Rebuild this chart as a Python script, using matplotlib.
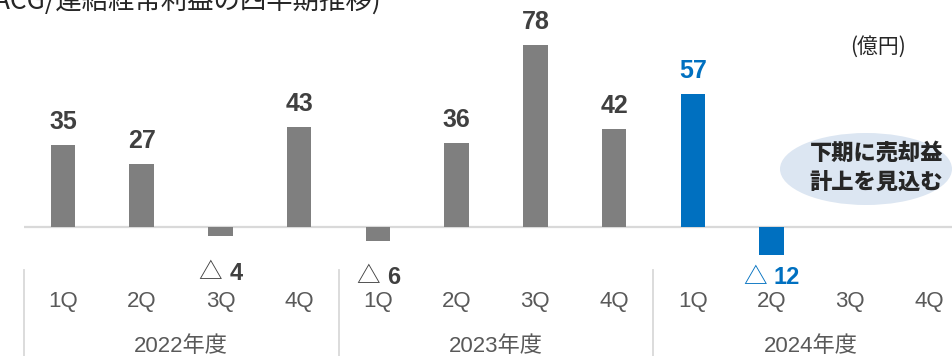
import matplotlib
matplotlib.use("Agg")
import matplotlib.pyplot as plt
from matplotlib.patches import Ellipse

plt.rcParams['font.family'] = ['Liberation Sans', 'Noto Sans CJK JP', 'DejaVu Sans']

# Quarterly consolidated ordinary profit (100 million yen)
years = ["2022年度", "2023年度", "2024年度"]
quarters = ["1Q", "2Q", "3Q", "4Q"]
values = [35, 27, -4, 43, -6, 36, 78, 42, 57, -12]
n_slots = len(years) * len(quarters)
bar_colors = ["#7F7F7F"] * 8 + ["#0070C0"] * 2
label_colors = ["#404040"] * 8 + ["#0070C0"] * 2

W, H, DPI = 953, 356, 100
fig = plt.figure(figsize=(W / DPI, H / DPI), dpi=DPI)
ax = fig.add_axes([0, 0, 1, 1])

# pixel geometry of the plotting area
x0_px, step_px = 63.0, 78.72
base_px, unit_px = 227.0, 2.33
ax.set_xlim(-x0_px / step_px, (W - x0_px) / step_px)
ax.set_ylim(-(H - base_px) / unit_px, base_px / unit_px)
ax.axis("off")

def y_of(px_from_top):
    return (base_px - px_from_top) / unit_px

xs = list(range(len(values)))
ax.bar(xs, values, width=24.5 / step_px, color=bar_colors, zorder=3)

# baseline
ax.plot([-0.5, n_slots], [0, 0], color="#D9D9D9", lw=1.6, zorder=2,
        solid_capstyle="butt")

# group separators
for b in [-0.5, 3.5, 7.5]:
    ax.plot([b, b], [y_of(270), y_of(H + 2)], color="#D9D9D9", lw=1.3,
            clip_on=False)

# positive value labels
for x, v, c in zip(xs, values, label_colors):
    if v > 0:
        ax.annotate(f"{v}", (x, v), xytext=(0, 11.5), textcoords="offset points",
                    ha="center", va="baseline", fontsize=18, fontweight="bold",
                    color=c)

# negative value labels (△ + number), centred under the bar
neg_y = {2: 273, 4: 277, 9: 278}
fig.canvas.draw()
renderer = fig.canvas.get_renderer()
for x, v, c in zip(xs, values, label_colors):
    if v < 0:
        yv = y_of(neg_y[x])
        tri = ax.text(0, yv, "△", ha="left", va="center", fontsize=17,
                      color=c, family=["Noto Sans CJK JP"])
        num = ax.text(0, yv, f"{-v}", ha="left", va="center", fontsize=17,
                      fontweight="bold", color=c)
        wt = tri.get_window_extent(renderer).width
        wn = num.get_window_extent(renderer).width
        gap = 7.0
        total = wt + gap + wn
        cx = x0_px + x * step_px
        left = cx - total / 2
        tri.set_x(left / step_px - x0_px / step_px)
        num.set_x((left + wt + gap) / step_px - x0_px / step_px)

# quarter labels
for i in range(n_slots):
    ax.text(i, y_of(301), quarters[i % 4], ha="center", va="center",
            fontsize=16, color="#595959")

# fiscal year labels
for g, yr in enumerate(years):
    ax.text(g * 4 + 1.5, y_of(346), yr, ha="center", va="center",
            fontsize=16, color="#595959")

# unit label
fig.text(878 / W, 1 - 47 / H, "(億円)", ha="center", va="center",
         fontsize=15, color="#262626", family=["Noto Sans CJK JP"])

# title, running off the top-left edge
fig.text(-14 / W, 1 - 1 / H, "(ACG/連結経常利益の四半期推移)", ha="left",
         va="center", fontsize=19, color="#262626", family=["Noto Sans CJK JP"])

# callout
ell = Ellipse((866, H - 169), 172, 72, transform=None, facecolor="#DCE6F2",
              edgecolor="none", zorder=1)
fig.patches.append(ell)
fig.text(943 / W, 1 - 153 / H, "下期に売却益", ha="right", va="center",
         fontsize=16, fontweight="heavy", color="#262626",
         family=["Noto Sans CJK JP"])
fig.text(943 / W, 1 - 182 / H, "計上を見込む", ha="right", va="center",
         fontsize=16, fontweight="heavy", color="#262626",
         family=["Noto Sans CJK JP"])

fig.savefig("out.png", dpi=DPI)
